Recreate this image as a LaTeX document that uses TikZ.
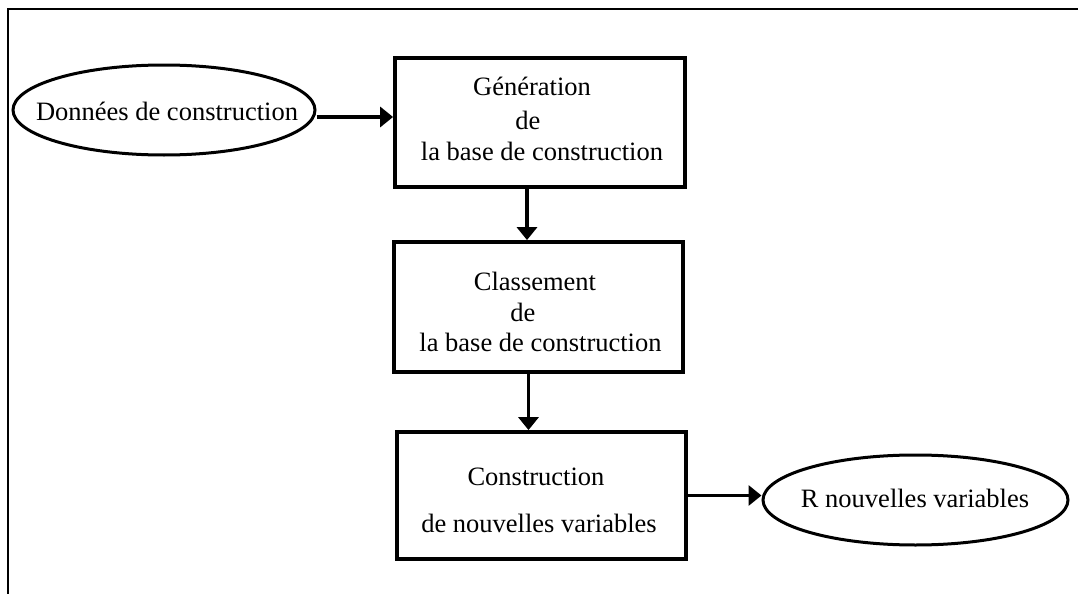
\documentclass[tikz,border=0pt]{standalone}
\usepackage{fontspec}
\setmainfont{Liberation Serif}
\usetikzlibrary{arrows.meta,shapes.geometric}
\begin{document}
\begin{tikzpicture}[x=0.5pt,y=-0.5pt,
  boxnode/.style={draw,line width=1.9pt,rectangle,inner sep=0pt},
  ovalnode/.style={draw,line width=1.5pt,ellipse,inner sep=0pt,minimum height=45pt},
  txt/.style={inner sep=0pt,font=\fontsize{13.25pt}{15pt}\selectfont},
  arr/.style={line width=1.7pt,-{Triangle[length=6.5pt,width=10pt]}}]
\useasboundingbox (0,0) rectangle (1078,594);
\draw[line width=0.6pt] (8,594) -- (8,9) -- (1078,9);
% ellipses
\node[ovalnode,minimum width=151pt] (e1) at (164,110) {};
\node[txt] (t0) at (167,111) {Données de construction};
\node[ovalnode,minimum width=152.5pt] (e2) at (915.5,500) {};
\node[txt] (t9) at (915,498) {R nouvelles variables};
% boxes
\node[boxnode,minimum width=145pt,minimum height=64.5pt] (b1) at (540,122.5) {};
\node[boxnode,minimum width=144.5pt,minimum height=65pt] (b2) at (538.5,307) {};
\node[boxnode,minimum width=144.5pt,minimum height=63.5pt] (b3) at (541.5,495.5) {};
% box texts
\node[txt] (t1) at (532,86) {Génération};
\node[txt] (t2) at (528,120) {de};
\node[txt] (t3) at (542,151) {la base de construction};
\node[txt] (t4) at (535,281) {Classement};
\node[txt] (t5) at (523,312) {de};
\node[txt] (t6) at (540.5,342) {la base de construction};
\node[txt] (t7) at (536,477) {Construction};
\node[txt] (t8) at (539,523) {de nouvelles variables};
% connectors
\draw[arr] ([yshift=-3.5pt]e1.east) coordinate (s1) -- (s1 -| b1.west);
\draw[arr] ([xshift=-6.5pt]b1.south) coordinate (s2) -- (s2 |- b2.north);
\draw[arr] ([xshift=-5pt]b2.south) coordinate (s3) -- (s3 |- b3.north);
\draw[arr] (b3.east) -- (b3.east -| e2.west);
\end{tikzpicture}
\end{document}
